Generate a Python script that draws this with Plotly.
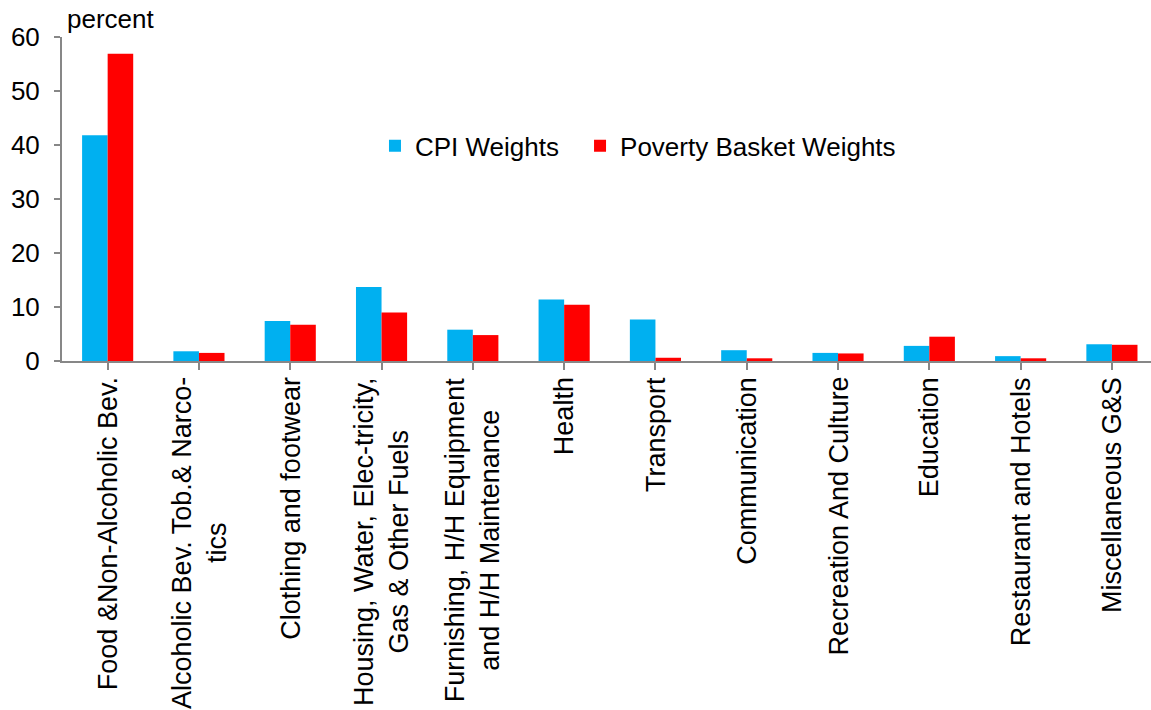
import plotly.graph_objects as go

categories = [
    "Food &Non-Alcoholic Bev.",
    "Alcoholic Bev. Tob.& Narco-<br>tics",
    "Clothing and footwear",
    "Housing, Water, Elec-tricity,<br>Gas & Other Fuels",
    "Furnishing, H/H Equipment<br>and H/H Maintenance",
    "Health",
    "Transport",
    "Communication",
    "Recreation And Culture",
    "Education",
    "Restaurant and Hotels",
    "Miscellaneous G&S",
]
cpi_weights = [41.8, 1.8, 7.4, 13.7, 5.8, 11.4, 7.7, 2.0, 1.5, 2.8, 0.9, 3.1]
poverty_weights = [56.9, 1.5, 6.7, 9.0, 4.8, 10.4, 0.6, 0.5, 1.4, 4.5, 0.5, 3.0]
y_ticks = [0, 10, 20, 30, 40, 50, 60]

FONT = "Arial, Liberation Sans, sans-serif"
AXIS_GREY = "#878787"
TEXT_SIZE = 26
LABEL_SIZE = 27

idx = list(range(len(categories)))

fig = go.Figure()
fig.add_trace(go.Bar(x=idx, y=cpi_weights, name="CPI Weights", legend="legend",
                     marker=dict(color="#00B0F0", line=dict(width=0))))
fig.add_trace(go.Bar(x=idx, y=poverty_weights, name="Poverty Basket Weights",
                     legend="legend2",
                     marker=dict(color="#FF0000", line=dict(width=0))))

# Category labels, rotated and centred under each group
annotations = []
for i, label in zip(idx, categories):
    annotations.append(dict(
        x=i, xref="x", y=0, yref="paper",
        text=label, textangle=-90, showarrow=False,
        xanchor="center", yanchor="top", yshift=-14, align="center",
        font=dict(family=FONT, size=LABEL_SIZE, color="#000000"),
    ))
annotations.append(dict(
    x=0, xref="paper", y=1, yref="paper", text="percent", showarrow=False,
    xanchor="left", yanchor="bottom", xshift=3, yshift=1,
    font=dict(family=FONT, size=TEXT_SIZE, color="#000000"),
))

legend_style = dict(orientation="h", y=0.664, xanchor="left", yanchor="middle",
                    font=dict(family=FONT, size=TEXT_SIZE, color="#000000"),
                    bgcolor="rgba(0,0,0,0)")

fig.update_layout(
    width=1151, height=710,
    margin=dict(l=62, r=0, t=37, b=349),
    paper_bgcolor="white", plot_bgcolor="white",
    barmode="group", bargap=0.44, bargroupgap=0,
    font=dict(family=FONT, size=TEXT_SIZE, color="#000000"),
    showlegend=True,
    legend=dict(x=0.2874, **legend_style),
    legend2=dict(x=0.4757, **legend_style),
    xaxis=dict(range=[-0.5, 11.428], tickmode="array", tickvals=idx,
               ticktext=[""] * len(idx), tickson="boundaries",
               ticks="outside", ticklen=7, tickwidth=2, tickcolor=AXIS_GREY,
               showline=True, linecolor=AXIS_GREY, linewidth=2,
               showgrid=False, zeroline=False, fixedrange=True),
    yaxis=dict(range=[0, 60], tickmode="array", tickvals=y_ticks,
               ticks="outside", ticklen=6, tickwidth=2, tickcolor=AXIS_GREY,
               showline=True, linecolor=AXIS_GREY, linewidth=2,
               showgrid=False, zeroline=False, ticklabelstandoff=9,
               tickfont=dict(family=FONT, size=TEXT_SIZE, color="#000000")),
    annotations=annotations,
)

fig.write_html("out.html")
